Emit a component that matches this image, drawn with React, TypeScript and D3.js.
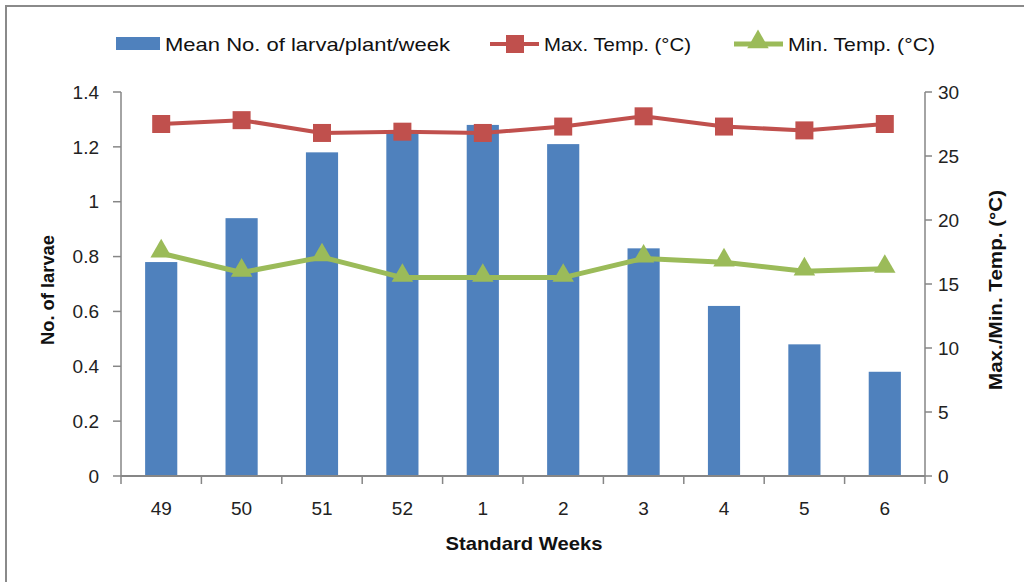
import React from "react";
import * as d3 from "d3";

const weeks = ["49", "50", "51", "52", "1", "2", "3", "4", "5", "6"];
const larvae = [0.78, 0.94, 1.18, 1.26, 1.28, 1.21, 0.83, 0.62, 0.48, 0.38];
const maxTemp = [27.5, 27.8, 26.8, 26.9, 26.8, 27.3, 28.1, 27.3, 27.0, 27.5];
const minTemp = [17.4, 15.9, 17.1, 15.5, 15.5, 15.5, 17.0, 16.7, 16.0, 16.2];
const leftTicks = [0, 0.2, 0.4, 0.6, 0.8, 1, 1.2, 1.4];
const rightTicks = [0, 5, 10, 15, 20, 25, 30];

const W = 1024;
const H = 582;
const margin = { top: 92, right: 99, bottom: 106, left: 121 };
const font = "'Liberation Sans', Arial, sans-serif";
const axisColor = "#868686";
const blue = "#4F81BD";
const red = "#C0504D";
const green = "#9BBB59";
const fs = 19;

function App() {
  const ref = React.useRef<SVGSVGElement>(null);

  React.useEffect(() => {
    const svg = d3.select(ref.current);
    svg.selectAll("*").remove();

    const x0 = margin.left;
    const x1 = W - margin.right;
    const y0 = H - margin.bottom;
    const y1 = margin.top;

    const x = d3.scaleBand().domain(weeks).range([x0, x1]).paddingInner(0.6).paddingOuter(0.3);
    const band = d3.scaleBand().domain(weeks).range([x0, x1]);
    const yL = d3.scaleLinear().domain([0, 1.4]).range([y0, y1]);
    const yR = d3.scaleLinear().domain([0, 30]).range([y0, y1]);
    const cx = (w: string) => (band(w) as number) + band.bandwidth() / 2;

    // outer frame (only top and left visible in the picture)
    svg.append("path")
      .attr("d", `M6,${H + 5}V6H${W + 5}`)
      .attr("fill", "none")
      .attr("stroke", "#8a8a8a")
      .attr("stroke-width", 2);

    // bars
    svg.append("g")
      .selectAll("rect")
      .data(larvae)
      .join("rect")
      .attr("x", (_, i) => cx(weeks[i]) - x.bandwidth() / 2)
      .attr("width", x.bandwidth())
      .attr("y", (d) => yL(d))
      .attr("height", (d) => y0 - yL(d))
      .attr("fill", blue);

    // left axis
    const gl = svg.append("g").attr("font-family", font).attr("font-size", fs).attr("fill", "#222");
    gl.append("line").attr("x1", x0).attr("x2", x0).attr("y1", y1).attr("y2", y0)
      .attr("stroke", axisColor).attr("stroke-width", 1.5);
    leftTicks.forEach((t) => {
      gl.append("line").attr("x1", x0 - 8).attr("x2", x0).attr("y1", yL(t)).attr("y2", yL(t))
        .attr("stroke", axisColor).attr("stroke-width", 1.5);
      gl.append("text").attr("x", x0 - 22).attr("y", yL(t)).attr("dy", "0.35em")
        .attr("text-anchor", "end").text(String(t));
    });

    // right axis
    const gr = svg.append("g").attr("font-family", font).attr("font-size", fs).attr("fill", "#222");
    gr.append("line").attr("x1", x1).attr("x2", x1).attr("y1", y1).attr("y2", y0)
      .attr("stroke", axisColor).attr("stroke-width", 1.5);
    rightTicks.forEach((t) => {
      gr.append("line").attr("x1", x1).attr("x2", x1 + 7).attr("y1", yR(t)).attr("y2", yR(t))
        .attr("stroke", axisColor).attr("stroke-width", 1.5);
      gr.append("text").attr("x", x1 + 13).attr("y", yR(t)).attr("dy", "0.35em")
        .attr("text-anchor", "start").text(String(t));
    });

    // x axis
    const gx = svg.append("g").attr("font-family", font).attr("font-size", fs).attr("fill", "#222");
    gx.append("line").attr("x1", x0).attr("x2", x1).attr("y1", y0).attr("y2", y0)
      .attr("stroke", axisColor).attr("stroke-width", 2);
    [...weeks.map((w) => band(w) as number), x1].forEach((p) => {
      gx.append("line").attr("x1", p).attr("x2", p).attr("y1", y0).attr("y2", y0 + 8)
        .attr("stroke", axisColor).attr("stroke-width", 1.5);
    });
    weeks.forEach((w) => {
      gx.append("text").attr("x", cx(w)).attr("y", y0 + 32).attr("dy", "0.35em")
        .attr("text-anchor", "middle").text(w);
    });

    // axis titles
    svg.append("text").attr("x", (x0 + x1) / 2 + 1).attr("y", 543).attr("dy", "0.35em")
      .attr("text-anchor", "middle").attr("font-family", font).attr("font-weight", "bold")
      .attr("font-size", 19).attr("fill", "#111")
      .attr("textLength", 157).attr("lengthAdjust", "spacingAndGlyphs").text("Standard Weeks");
    svg.append("text").attr("transform", `translate(48,${(y0 + y1) / 2 + 6}) rotate(-90)`)
      .attr("dy", "0.35em").attr("text-anchor", "middle").attr("font-family", font)
      .attr("font-weight", "bold").attr("font-size", 18).attr("fill", "#111")
      .attr("textLength", 110).attr("lengthAdjust", "spacingAndGlyphs").text("No. of larvae");
    svg.append("text").attr("transform", `translate(995,${(y0 + y1) / 2 + 6}) rotate(-90)`)
      .attr("dy", "0.35em").attr("text-anchor", "middle").attr("font-family", font)
      .attr("font-weight", "bold").attr("font-size", 19).attr("fill", "#111")
      .attr("textLength", 200).attr("lengthAdjust", "spacingAndGlyphs").text("Max./Min. Temp. (°C)");

    // lines
    const line = d3.line<number>().x((_, i) => cx(weeks[i])).y((d) => yR(d));
    svg.append("path").attr("d", line(maxTemp)).attr("fill", "none")
      .attr("stroke", red).attr("stroke-width", 4).attr("stroke-linejoin", "round");
    svg.append("g").selectAll("rect").data(maxTemp).join("rect")
      .attr("x", (_, i) => cx(weeks[i]) - 9).attr("y", (d) => yR(d) - 9)
      .attr("width", 18).attr("height", 18).attr("fill", red);

    svg.append("path").attr("d", line(minTemp)).attr("fill", "none")
      .attr("stroke", green).attr("stroke-width", 5).attr("stroke-linejoin", "round");
    const tri = d3.symbol().type(d3.symbolTriangle).size(200);
    svg.append("g").selectAll("path").data(minTemp).join("path")
      .attr("transform", (d, i) => `translate(${cx(weeks[i])},${yR(d) - 2})`)
      .attr("d", tri).attr("fill", green);

    // legend
    const lg = svg.append("g").attr("font-family", font).attr("font-size", fs).attr("fill", "#111");
    lg.append("rect").attr("x", 116).attr("y", 37).attr("width", 44).attr("height", 13).attr("fill", blue);
    lg.append("text").attr("x", 165).attr("y", 44).attr("dy", "0.35em")
      .attr("textLength", 285).attr("lengthAdjust", "spacingAndGlyphs").text("Mean No. of larva/plant/week");
    lg.append("line").attr("x1", 490).attr("x2", 539).attr("y1", 44).attr("y2", 44)
      .attr("stroke", red).attr("stroke-width", 4);
    lg.append("rect").attr("x", 506).attr("y", 35).attr("width", 18).attr("height", 18).attr("fill", red);
    lg.append("text").attr("x", 544).attr("y", 44).attr("dy", "0.35em")
      .attr("textLength", 147).attr("lengthAdjust", "spacingAndGlyphs").text("Max. Temp. (°C)");
    lg.append("line").attr("x1", 734).attr("x2", 783).attr("y1", 44).attr("y2", 44)
      .attr("stroke", green).attr("stroke-width", 5);
    lg.append("path").attr("transform", "translate(758,42)").attr("d", tri).attr("fill", green);
    lg.append("text").attr("x", 788).attr("y", 44).attr("dy", "0.35em")
      .attr("textLength", 147).attr("lengthAdjust", "spacingAndGlyphs").text("Min. Temp. (°C)");
  }, []);

  return (
    <svg
      ref={ref}
      width={W}
      height={H}
      style={{ position: "absolute", left: 0, top: 0, background: "#fff" }}
    />
  );
}

export default App;
